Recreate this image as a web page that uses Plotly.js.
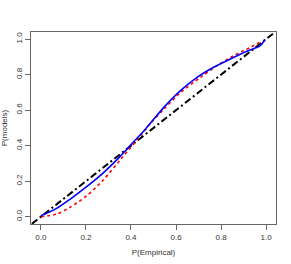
<!DOCTYPE html>
<html>
<head>
<meta charset="utf-8">
<script src="https://cdn.plot.ly/plotly-3.0.1.min.js"></script>
<style>html,body{margin:0;padding:0;background:#fff;}#chart{width:291px;height:264px;}</style>
</head>
<body>
<div id="chart"></div>
<script>
var diagX = [-0.04, 1.04];
var diagY = [-0.04, 1.04];

var blueX = [0, 0.07, 0.129, 0.203, 0.277, 0.351, 0.425, 0.462, 0.547, 0.621, 0.695, 0.769, 0.843, 0.917, 0.976, 0.995];
var blueY = [0.005, 0.047, 0.098, 0.169, 0.247, 0.338, 0.44, 0.49, 0.617, 0.711, 0.786, 0.843, 0.889, 0.933, 0.965, 0.998];

var redX = [0, 0.07, 0.129, 0.203, 0.277, 0.351, 0.425, 0.488, 0.547, 0.621, 0.71, 0.784, 0.858, 0.932, 0.984];
var redY = [0, 0.015, 0.053, 0.117, 0.207, 0.318, 0.43, 0.527, 0.607, 0.70, 0.786, 0.852, 0.908, 0.955, 0.99];

var xTicks = [0, 0.2, 0.4, 0.6, 0.8, 1.0];
var xTickText = ['0.0', '0.2', '0.4', '0.6', '0.8', '1.0'];
var yTicks = [0, 0.2, 0.4, 0.6, 0.8, 1.0];
var yTickText = ['0.0', '0.2', '0.4', '0.6', '0.8', '1.0'];

var traces = [
  {x: diagX, y: diagY, mode: 'lines', line: {color: '#000', width: 2, dash: '7px,3px,2px,3px'}, hoverinfo: 'skip'},
  {x: redX, y: redY, mode: 'lines', line: {color: '#ff0000', width: 1.6, dash: '3px,3px', shape: 'spline', smoothing: 0.8}, hoverinfo: 'skip'},
  {x: blueX, y: blueY, mode: 'lines', line: {color: '#0000ff', width: 1.6, shape: 'spline', smoothing: 0.8}, hoverinfo: 'skip'}
];

function f() { return {family: 'Liberation Sans, Arial, sans-serif', size: 8, color: '#333'}; }

var layout = {
  width: 291, height: 264,
  margin: {l: 31, r: 15, t: 32, b: 40, pad: 0},
  paper_bgcolor: '#fff', plot_bgcolor: '#fff',
  showlegend: false,
  xaxis: {
    range: [-0.044, 1.044], showgrid: false, zeroline: false,
    showline: true, mirror: true, linecolor: '#666', linewidth: 1,
    ticks: 'outside', ticklen: 5, tickcolor: '#666', tickwidth: 1,
    tickvals: xTicks, ticktext: xTickText, tickfont: f(),
    title: {text: 'P(Empirical)', font: f(), standoff: 8}
  },
  yaxis: {
    range: [-0.041, 1.04], showgrid: false, zeroline: false,
    showline: true, mirror: true, linecolor: '#666', linewidth: 1,
    ticks: 'outside', ticklen: 5, tickcolor: '#666', tickwidth: 1,
    tickvals: yTicks, ticktext: yTickText, tickfont: f(), tickangle: -90,
    title: {text: 'P(models)', font: f(), standoff: 6}
  }
};

Plotly.newPlot('chart', traces, layout, {staticPlot: true, displayModeBar: false});
</script>
</body>
</html>
